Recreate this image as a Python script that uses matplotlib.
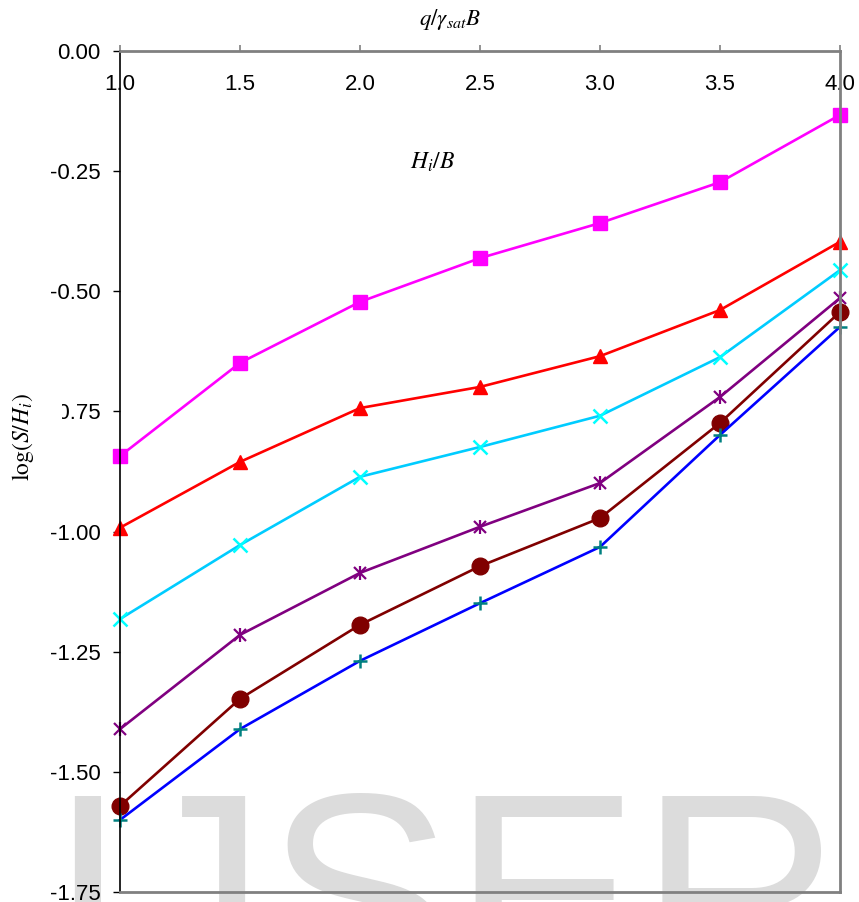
import numpy as np
import matplotlib
matplotlib.use("Agg")
import matplotlib.pyplot as plt
from matplotlib.ticker import FormatStrFormatter

plt.rcParams['font.family'] = ['Liberation Sans', 'DejaVu Sans']
plt.rcParams['mathtext.fontset'] = 'stix'

# q / (gamma_sat B)
x = [1.0, 1.5, 2.0, 2.5, 3.0, 3.5, 4.0]

# log(S/Hi) for each Hi/B curve (top to bottom)
s_magenta = [-0.843, -0.649, -0.522, -0.431, -0.358, -0.273, -0.133]
s_red = [-0.992, -0.855, -0.743, -0.699, -0.635, -0.539, -0.397]
s_cyan = [-1.182, -1.028, -0.886, -0.824, -0.759, -0.637, -0.456]
s_purple = [-1.411, -1.215, -1.086, -0.990, -0.899, -0.720, -0.514]
s_maroon = [-1.571, -1.348, -1.194, -1.072, -0.972, -0.774, -0.543]
s_blue = [-1.600, -1.411, -1.269, -1.149, -1.032, -0.799, -0.574]

W, H = 859, 902
fig = plt.figure(figsize=(W / 100, H / 100), dpi=100)
ax = fig.add_axes([120 / W, 1 - 892 / H, 720 / W, 841 / H])
ax.set_zorder(2)
ax.patch.set_alpha(0)

# watermark behind the chart, cut by the lower edge
fig.text(48 / W, 1 - 989 / H, "IJSER", fontsize=201.6, color="#dcdcdc",
         family="Liberation Sans", ha="left", va="baseline", zorder=0)

lw = 1.9
ax.plot(x, s_magenta, color="#FF00FF", lw=lw, marker="s", ms=10.5, clip_on=False)
ax.plot(x, s_red, color="#FF0000", lw=lw, marker="^", ms=10.5, clip_on=False)
ax.plot(x, s_cyan, color="#00CCFF", lw=lw, marker="x", ms=10, mew=1.8,
        mec="#00FFFF", clip_on=False)
ax.plot(x, s_purple, color="#800080", lw=lw, marker="x", ms=9, mew=1.6, clip_on=False)
ax.plot(x, s_purple, ls="none", color="#800080", marker="|", ms=10.5, mew=1.6,
        clip_on=False)
ax.plot(x, s_maroon, color="#800000", lw=lw, marker="o", ms=12, clip_on=False)
ax.plot(x, s_blue, color="#0000FF", lw=lw, marker="+", ms=10, mew=1.8,
        mec="#008080", clip_on=False)

ax.set_xlim(1.0, 4.0)
ax.set_ylim(-1.75, 0.0)
ax.set_xticks(x)
ax.set_yticks(np.arange(-1.75, 0.01, 0.25))
ax.xaxis.set_major_formatter(FormatStrFormatter('%.1f'))
ax.yaxis.set_major_formatter(FormatStrFormatter('%.2f'))

ax.tick_params(axis="x", top=True, bottom=False, labeltop=True, labelbottom=False,
               direction="out", length=4.5, width=1.2, color="#808080",
               labelsize=16, pad=-36)
ax.tick_params(axis="y", direction="out", length=5, width=1.0, color="black",
               labelsize=16, pad=9)

for side in ["top", "right", "bottom"]:
    ax.spines[side].set_color("#808080")
    ax.spines[side].set_linewidth(2.0)
ax.spines["left"].set_color("black")
ax.spines["left"].set_linewidth(1.2)

fig.text(450 / W, 1 - 20 / H, r"$q/\gamma_{sat}B$", fontsize=16.5,
         ha="center", va="center")
fig.text(433 / W, 1 - 162 / H, r"$H_i/B$", fontsize=17, ha="center", va="center")

# y label sits over the left of the -0.75 tick label, with a white box
fig.text(23 / W, 1 - 437 / H, r"$\mathrm{log}(S/H_i)$", fontsize=17, rotation=90,
         ha="center", va="center", zorder=5,
         bbox=dict(facecolor="white", edgecolor="none", pad=19))

fig.savefig("out.png", dpi=100)
